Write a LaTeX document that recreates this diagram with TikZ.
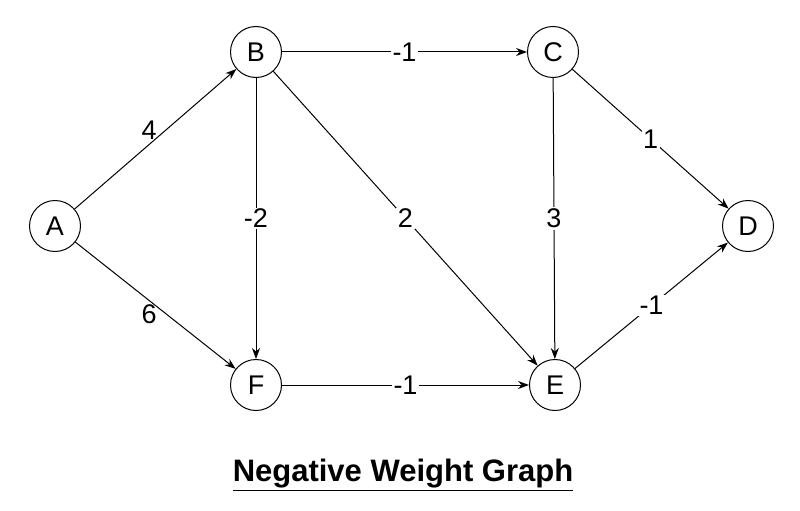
\documentclass[tikz,border=0pt]{standalone}
\usepackage{fontspec}
\setmainfont{Liberation Sans}
\usetikzlibrary{arrows.meta}
\begin{document}
\begin{tikzpicture}[x=1pt,y=-1pt,
  vtx/.style={circle,draw,line width=1pt,minimum size=51pt,inner sep=0pt,font=\fontsize{27}{30}\selectfont},
  conn/.style={-{Stealth[length=11pt,width=8pt]},line width=1pt},
  lbl/.style={fill=white,inner sep=1.5pt,font=\fontsize{27}{30}\selectfont}]
\useasboundingbox (0,0) rectangle (800,511);
\node[vtx] (A) at (55,226) {A};
\node[vtx] (B) at (256,52) {B};
\node[vtx] (C) at (553,52) {C};
\node[vtx] (D) at (748,226) {D};
\node[vtx] (E) at (555,385) {E};
\node[vtx] (F) at (256,385) {F};
\draw[conn] (A) -- node[lbl,pos=0.46,yshift=14pt,fill=none] {4} (B);
\draw[conn] (A) -- node[lbl,pos=0.46,yshift=-14pt,fill=none] {6} (F);
\draw[conn] (B) -- node[lbl] {-1} (C);
\draw[conn] (B) -- node[lbl] {-2} (F);
\draw[conn] (B) -- node[lbl] {2} (E);
\draw[conn] (C) -- node[lbl] {3} (E);
\draw[conn] (C) -- node[lbl] {1} (D);
\draw[conn] (E) -- node[lbl] {-1} (D);
\draw[conn] (F) -- node[lbl] {-1} (E);
\node[font=\bfseries\fontsize{31}{36}\selectfont] (T) at (403,475) {\underline{Negative Weight Graph}};
\end{tikzpicture}
\end{document}
